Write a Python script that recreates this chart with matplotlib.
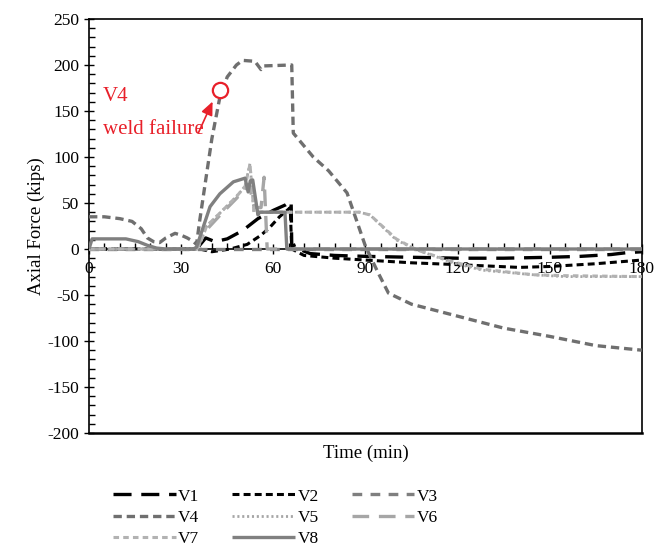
import matplotlib
matplotlib.use("Agg")
import matplotlib.pyplot as plt
from matplotlib.ticker import MultipleLocator

plt.rcParams['font.family'] = ['Liberation Serif', 'DejaVu Serif']
plt.rcParams['axes.unicode_minus'] = False
plt.rcParams['lines.scale_dashes'] = False

# ---- data (time in min, axial force in kips) ----
v1_t = [0, 35, 38, 41, 45, 50, 55, 60, 64, 65.8, 66.0, 67.5, 69, 72, 80, 90, 105, 120, 135, 150, 160, 170, 175, 180]
v1_f = [0, 0, 12, 8, 11, 20, 33, 42, 48, 52, 3, 5, -1, -5, -7, -8, -9, -10, -10, -9, -8, -6, -4, -3]

v2_t = [0, 36, 40, 46, 51.5, 56, 59, 62, 64.5, 65.5, 66, 70, 80, 90, 105, 120, 140, 150, 165, 180]
v2_f = [0, 0, -3, 0, 5, 15, 24, 35, 42, 45, 0, -7, -10, -12, -15, -17, -20, -19, -16, -12]

v3_t = [0, 180]
v3_f = [0, 0]

v4_t = [0, 5, 10, 14, 17, 19, 21, 23, 25, 28, 30, 32, 34, 35, 36, 38.3, 40, 42.6, 45, 48, 50, 54, 56, 57,
        66, 66.5, 68, 73, 78, 84, 90, 94, 97.5, 105, 120, 135, 150, 165, 180]
v4_f = [35, 35, 33, 30, 22, 12, 8, 7, 12, 17, 15, 12, 8, 5, 30, 82, 120, 165, 187, 200, 205, 204, 195, 199,
        200, 126, 120, 100, 85, 61, 3, -25, -48, -60, -73, -86, -95, -105, -110]

v5_t = [0, 35, 36, 38.3, 42.6, 48, 50.8, 52.4, 53.7, 88, 91.5, 100, 106.7, 118.6, 128, 144.6, 155, 180]
v5_f = [0, 0, 5, 25, 39, 57, 68, 93, 40, 40, 37, 10, -1, -15, -23, -28, -30, -30]

v6_t = [0, 35, 38, 43, 48, 52, 54, 56, 57, 58, 180]
v6_f = [0, 0, 20, 38, 55, 70, 45, 45, 78, 0, 0]

v7_t = [0, 35, 36, 38.3, 42.6, 48, 50.8, 52.4, 53.7, 88, 91.5, 100, 106.7, 118.6, 128, 144.6, 155, 180]
v7_f = [0, 0, 5, 25, 39, 57, 68, 92, 40, 40, 37, 11, -1, -14, -22, -28, -29, -30]

v8_t = [0, 1, 12, 16, 19, 22, 25, 34, 35, 39.4, 42.6, 47, 50.8, 51.8, 52.5, 53.3, 55, 55.5, 63.8, 64.4, 180]
v8_f = [0, 11, 11, 8, 4, 1, 0, 0, 2, 46, 60, 73, 77, 62, 74, 75, 37, 40, 40, 0, 0]

series = [
    ("V1", v1_t, v1_f, dict(color="black", lw=2.4, dashes=(13, 7))),
    ("V2", v2_t, v2_f, dict(color="black", lw=2.2, dashes=(5, 3))),
    ("V3", v3_t, v3_f, dict(color="#7f7f7f", lw=2.4, dashes=(7, 6))),
    ("V4", v4_t, v4_f, dict(color="#6f6f6f", lw=2.4, dashes=(6, 3.5))),
    ("V5", v5_t, v5_f, dict(color="#a6a6a6", lw=2.0, dashes=(1.5, 2))),
    ("V6", v6_t, v6_f, dict(color="#a6a6a6", lw=2.4, dashes=(12, 7))),
    ("V7", v7_t, v7_f, dict(color="#b2b2b2", lw=2.2, dashes=(4, 3))),
    ("V8", v8_t, v8_f, dict(color="#808080", lw=2.4)),
]

fig = plt.figure(figsize=(6.57, 5.5), dpi=100)
ax = fig.add_axes([0.1355, 0.2127, 0.8415, 0.7528])

lines = {}
for name, t, f, st in series:
    ln, = ax.plot(t, f, label=name, zorder=3, solid_capstyle='butt', dash_capstyle='butt', **st)
    lines[name] = ln

ax.set_xlim(0, 180)
ax.set_ylim(-200, 250)
ax.xaxis.set_major_locator(MultipleLocator(30))
ax.xaxis.set_minor_locator(MultipleLocator(5))
ax.yaxis.set_major_locator(MultipleLocator(50))
ax.yaxis.set_minor_locator(MultipleLocator(10))

for s in ax.spines.values():
    s.set_linewidth(1.2)
    s.set_color("black")
ax.spines['bottom'].set_position(('data', 0))
ax.axhline(-200, color="black", lw=1.8, clip_on=False, zorder=2.5)

ax.tick_params(axis='both', which='major', direction='inout', length=7, width=1, labelsize=12.5)
ax.tick_params(axis='both', which='minor', direction='in', length=4, width=1)
ax.tick_params(axis='x', which='major', pad=5)

ax.set_ylabel("Axial Force (kips)", fontsize=13.5, labelpad=2)
ax.text(0.5, -0.027, "Time (min)", transform=ax.transAxes, ha='center', va='top', fontsize=13.5)

# annotation
red = "#e8202a"
ax.plot([42.6], [172.8], marker='o', ms=11, mfc='white', mec=red, mew=1.6, zorder=5)
ax.annotate("", xy=(40.6, 163), xytext=(35.3, 124),
            arrowprops=dict(arrowstyle='-|>,head_length=0.8,head_width=0.35', color=red, lw=1.2), zorder=5)
ax.text(4.5, 166, "V4", color=red, fontsize=15, ha='left', va='center')
ax.text(4.5, 130, "weld failure", color=red, fontsize=15, ha='left', va='center')

order = ["V1", "V4", "V7", "V2", "V5", "V8", "V3", "V6"]
fig.legend([lines[n] for n in order], order, loc='upper left', bbox_to_anchor=(0.172, 0.112), ncol=3,
           frameon=False, fontsize=12.5, handlelength=3.6, handletextpad=0.15, columnspacing=1.9,
           labelspacing=0.3, borderaxespad=0, borderpad=0)

fig.savefig("out.png", dpi=100)
